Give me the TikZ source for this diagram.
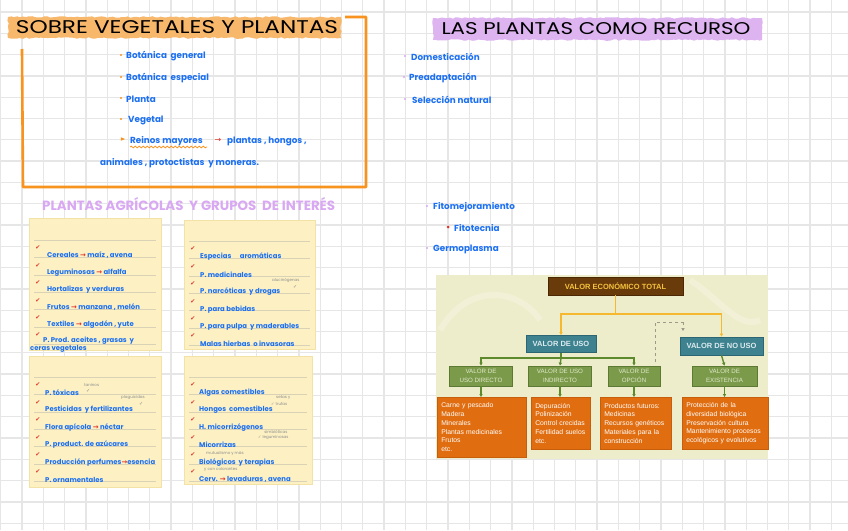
\documentclass[tikz,border=0pt]{standalone}
\usepackage{graphicx}
\usepackage{fontspec}
\setmainfont{Liberation Sans}
\newfontfamily\hand{Poppins}
\newfontfamily\sym{DejaVu Sans}
\usetikzlibrary{arrows.meta,decorations.pathmorphing,shapes.geometric}
\definecolor{gridc}{HTML}{E6E6E6}
\definecolor{hblue}{HTML}{1A6FF2}
\definecolor{orng}{HTML}{F7931E}
\definecolor{orhl}{HTML}{F8B86C}
\definecolor{puhl}{HTML}{DDB4F0}
\definecolor{pudot}{HTML}{D9A8F2}
\definecolor{arrred}{HTML}{E2332A}
\definecolor{chkred}{HTML}{E03A2E}
\definecolor{cardfill}{HTML}{FDF1C4}
\definecolor{cardedge}{HTML}{F3E2A6}
\definecolor{rulec}{HTML}{D9D2B6}
\definecolor{notegray}{HTML}{8C8C8C}
\definecolor{chartbg}{HTML}{EEEDCB}
\definecolor{brownf}{HTML}{6A3B0A}
\definecolor{browne}{HTML}{4A2806}
\definecolor{goldt}{HTML}{F4C23E}
\definecolor{ylw}{HTML}{F5B82E}
\definecolor{tealf}{HTML}{3E8290}
\definecolor{teale}{HTML}{2C6674}
\definecolor{tealt}{HTML}{DCEBEE}
\definecolor{greenf}{HTML}{7B9A4A}
\definecolor{greene}{HTML}{5C7A33}
\definecolor{greent}{HTML}{E2EACB}
\definecolor{grln}{HTML}{5E8A2E}
\definecolor{oranf}{HTML}{E06D10}
\definecolor{orane}{HTML}{C65E0C}
\definecolor{dashc}{HTML}{9A9A88}
\newcommand\ra{{\sym\color{arrred}→}}
\begin{document}
\begin{tikzpicture}[x=1pt,y=-1pt,
  gridln/.style={draw=gridc, line width=1.3pt},
  btxt/.style={font=\hand\bfseries\fontsize{8.8}{10}\selectfont, text=hblue, anchor=west, inner sep=0pt},
  ctxt/.style={font=\hand\bfseries\fontsize{6.9}{7.5}\selectfont, text=hblue, anchor=west, inner sep=0pt},
  note/.style={font=\hand\fontsize{4}{4.5}\selectfont, text=notegray, anchor=west, inner sep=0pt, align=left},
  card/.style={draw=cardedge, fill=cardfill, line width=0.8pt},
  rulel/.style={draw=rulec, line width=0.6pt},
  chk/.style={font=\sym\fontsize{6}{6}\selectfont, text=chkred, inner sep=0pt},
  odot/.style={circle, fill=orng, inner sep=0pt, minimum size=2.2pt},
  pdot/.style={circle, fill=pudot, inner sep=0pt, minimum size=2.4pt},
  brown/.style={draw=browne, fill=brownf, text=goldt, font=\bfseries\fontsize{7.5}{8}\selectfont, minimum width=135pt, minimum height=18pt, inner sep=0pt, line width=0.8pt},
  tealb/.style={draw=teale, fill=tealf, text=tealt, font=\bfseries\fontsize{7.5}{8}\selectfont, minimum height=17pt, inner sep=0pt, line width=0.8pt},
  greenb/.style={draw=greene, fill=greenf, text=greent, font=\fontsize{6.2}{8.5}\selectfont, minimum height=20pt, inner sep=0pt, align=center, line width=0.8pt},
  orangeb/.style={draw=orane, fill=oranf, text=white, font=\fontsize{6.8}{8.8}\selectfont, inner xsep=4pt, inner ysep=3pt, align=left, anchor=north west, line width=0.6pt},
  tip/.style={-{Triangle[length=3pt,width=3.2pt]}},
  yl/.style={draw=ylw, line width=1.8pt},
  gl/.style={draw=grln, line width=1.4pt}
]
\useasboundingbox (0,0) rectangle (848,530);
\fill[white] (0,0) rectangle (848,530);
% grid
\foreach \i in {-1,...,38} \draw[gridln] ({22+21.3*\i},0) -- ({22+21.3*\i},530);
\foreach \j in {0,...,24} \draw[gridln] (0,{12+21.3*\j}) -- (848,{12+21.3*\j});

% ===== Title 1
\fill[orhl, decorate, decoration={random steps, segment length=3pt, amplitude=0.8pt}] (8,17) rectangle (341,38);
\node[inner sep=0pt] (t1) at (177,27.5) {\resizebox{322pt}{13pt}{\hand SOBRE VEGETALES Y PLANTAS}};
\draw[orng, line width=2.6pt, line join=round] (345,17) -- (366,17) -- (366,187) -- (23,187) -- (22,49);

\node[odot] (d1) at (121,55) {};
\node[btxt] (b1) at (126,56) {Botánica \ general};
\node[odot] (d2) at (121,77) {};
\node[btxt] (b2) at (126,78) {Botánica \ especial};
\node[odot] (d3) at (121,98) {};
\node[btxt] (b3) at (126,99) {Planta};
\node[odot] (d4) at (121,119) {};
\node[btxt] (b4) at (128,120) {Vegetal};
\node[fill=orng, isosceles triangle, inner sep=0pt, minimum size=3.5pt] (d5) at (122,139) {};
\node[btxt] (b5) at (130,141) {Reinos mayores};
\draw[orng, line width=0.8pt, decorate, decoration={snake, amplitude=0.8pt, segment length=4pt}] (130,147) -- (207,147);
\node[inner sep=0pt, font=\sym\fontsize{8}{8}\selectfont, text=arrred] (a5) at (218,140) {→};
\node[btxt] (b5b) at (227,141) {plantas , hongos ,};
\node[btxt] (b6) at (100,163) {animales , protoctistas \ y moneras.};

% ===== Title 2
\fill[puhl, decorate, decoration={random steps, segment length=3pt, amplitude=0.8pt}] (433,18) rectangle (762,40);
\node[inner sep=0pt] (t2) at (596,29) {\resizebox{309pt}{12pt}{\hand LAS PLANTAS COMO RECURSO}};

\node[pdot] (e1) at (405,56) {};
\node[btxt] (r1) at (411,57) {Domesticación};
\node[pdot] (e2) at (404,77) {};
\node[btxt] (r2) at (409,78) {Preadaptación};
\node[pdot] (e3) at (405,99) {};
\node[btxt] (r3) at (412,100) {Selección natural};

\node[pdot] (e4) at (427,206) {};
\node[btxt] (r4) at (433,207) {Fitomejoramiento};
\node[circle, fill=arrred, inner sep=0pt, minimum size=3pt] (e5) at (448,227) {};
\node[btxt] (r5) at (454,228) {Fitotecnia};
\node[pdot] (e6) at (427,248) {};
\node[btxt] (r6) at (433,249) {Germoplasma};

% ===== Agricultural heading
\node[inner sep=0pt, anchor=west, text=pudot] (t3) at (42,204) {\resizebox{293pt}{!}{\hand\bfseries PLANTAS AGRÍCOLAS \ Y GRUPOS \ DE INTERÉS}};

% ===== Cards
\draw[card] (29,218) rectangle (161,350);
\draw[card] (184,220) rectangle (315,349);
\draw[card] (29,356) rectangle (161,487);
\draw[card] (184,356) rectangle (312,484);

% card 1
\foreach \k in {0,...,6} \draw[rulel] (34,{240+17.4*\k}) -- (156,{240+17.4*\k});
\foreach \t [count=\k from 0] in {{Cereales \ra{} maíz , avena},{Leguminosas \ra{} alfalfa},{Hortalizas \ y verduras},{Frutos \ra{} manzana , melón},{Textiles \ra{} algodón , yute}}
  { \node[chk] (c1k\k) at (38,{248+17.4*\k}) {✔};
    \node[ctxt] (c1t\k) at (47,{255+17.4*\k}) {\t}; }
\node[chk] (c1k5) at (38,335) {✔};
\node[ctxt] (c1t5) at (43,341) {P. Prod. aceites , grasas \ y};
\node[ctxt] (c1t6) at (30,348.5) {ceras vegetales};

% card 2
\foreach \k in {0,...,6} \draw[rulel] (189,{241+17.4*\k}) -- (310,{241+17.4*\k});
\foreach \t [count=\k from 0] in {{Especias \quad aromáticas},{P. medicinales},{P. narcóticas \ y drogas},{P. para bebidas},{P. para pulpa \ y maderables},{Malas hierbas \ o invasoras}}
  { \node[chk] (c2k\k) at (193,{249+17.4*\k}) {✔};
    \node[ctxt] (c2t\k) at (200,{257+17.4*\k}) {\t}; }
\node[note] (n1) at (272,280) {alucinógenas};
\node[note, font=\sym\fontsize{5}{5}\selectfont] (n1c) at (293,287) {✓};

% card 3
\foreach \k in {0,...,6} \draw[rulel] (34,{377+17.4*\k}) -- (156,{377+17.4*\k});
\foreach \t [count=\k from 0] in {{P. tóxicas},{Pesticidas \ y fertilizantes},{Flora apícola \ra{} néctar},{P. product. de azúcares},{Producción perfumes\ra{}esencia},{P. ornamentales}}
  { \node[chk] (c3k\k) at (38,{385+17.4*\k}) {✔};
    \node[ctxt] (c3t\k) at (45,{392.5+17.4*\k}) {\t}; }
\node[note] (n2) at (84,385) {taninos};
\node[note, font=\sym\fontsize{5}{5}\selectfont] (n2c) at (86,391) {✓};
\node[note] (n3) at (121,398) {plaguicidas};
\node[note, font=\sym\fontsize{5}{5}\selectfont] (n3c) at (139,404) {✓};

% card 4
\foreach \k in {0,...,6} \draw[rulel] (189,{377+17.4*\k}) -- (307,{377+17.4*\k});
\foreach \t [count=\k from 0] in {{Algas comestibles},{Hongos \ comestibles},{H. micorrizógenos},{Micorrizas},{Biológicos \ y terapias},{Cerv. \ra{} levaduras , avena}}
  { \node[chk] (c4k\k) at (193,{385+17.4*\k}) {✔};
    \node[ctxt] (c4t\k) at (199,{392.5+17.4*\k}) {\t}; }
\node[note] (n4) at (276,398) {setas y};
\node[note] (n4b) at (271,404) {{\sym ✓} trufas};
\node[note] (n5) at (262,432) {\ \ simbióticas};
\node[note] (n5b) at (258,437.5) {{\sym ✓} leguminosas};
\node[note] (n6) at (206,453) {mutualismo y más};
\node[note] (n7) at (204,469.5) {y con colorantes};

% ===== Chart
\fill[chartbg] (436,275) rectangle (768,459);
\begin{scope}
\clip (436,275) rectangle (768,459);
\draw[white, opacity=0.25, line width=6pt] (440,330) .. controls (470,280) and (520,290) .. (540,320);
\draw[white, opacity=0.25, line width=6pt] (690,280) .. controls (720,300) and (740,330) .. (760,320);
\end{scope}

\node[brown] (vet) at (615.5,286) {VALOR ECONÓMICO TOTAL};
\node[tealb, minimum width=70pt] (vu) at (561,344) {VALOR DE USO};
\node[tealb, minimum width=83pt, minimum height=18pt] (vnu) at (721.5,346) {VALOR DE NO USO};

\node[greenb, minimum width=63pt] (g1) at (481,376) {VALOR DE\\USO DIRECTO};
\node[greenb, minimum width=63pt] (g2) at (560,376) {VALOR DE USO\\INDIRECTO};
\node[greenb, minimum width=52pt] (g3) at (634,376) {VALOR DE\\OPCIÓN};
\node[greenb, minimum width=65pt] (g4) at (724.5,376) {VALOR DE\\EXISTENCIA};

\node[orangeb, text width=81pt, minimum height=60pt] (o1) at (437,397) {Carne y pescado\\Madera\\Minerales\\Plantas medicinales\\Frutos\\etc.};
\node[orangeb, text width=51pt, minimum height=52pt] (o2) at (531,397) {Depuración\\Polinización\\Control crecidas\\Fertilidad suelos\\etc.};
\node[orangeb, text width=63pt, minimum height=52pt] (o3) at (600,397) {Productos futuros:\\Medicinas\\Recursos genéticos\\Materiales para la\\construcción};
\node[orangeb, text width=78pt, minimum height=52pt] (o4) at (682,397) {Protección de la\\diversidad biológica\\Preservación cultura\\Mantenimiento procesos\\ecológicos y evolutivos};

% yellow connectors
\coordinate (ybar) at (615.5,314);
\draw[yl] (vet.south) -- (ybar);
\draw[yl, tip] (ybar) -| (vu.north);
\draw[yl, tip] (ybar) -| (vnu.north);
% green connectors
\coordinate (gbar) at (561,358);
\draw[gl] (vu.south) -- (gbar);
\draw[gl, tip] (gbar) -| (g1.north);
\draw[gl, tip] (gbar) -| (g3.north);
\draw[gl, tip] (gbar) -- (g2.north);
\draw[gl, tip] (vnu.south) -- (g4.north);
\draw[gl, tip] (g1.south) -- (g1.south |- o1.north);
\draw[gl, tip] (g2.south) -- (g2.south |- o2.north);
\draw[gl, tip] (g3.south) -- (g3.south |- o3.north);
\draw[gl, tip] (g4.south) -- (g4.south |- o4.north);
% dashed connector
\coordinate (ds) at (655,362);
\coordinate (dc) at (683,322);
\coordinate (de) at (683,331);
\draw[dashc, dashed, line width=1pt] (ds) |- (dc);
\draw[dashc, dashed, line width=1pt, tip] (dc) -- (de);
\end{tikzpicture}
\end{document}
